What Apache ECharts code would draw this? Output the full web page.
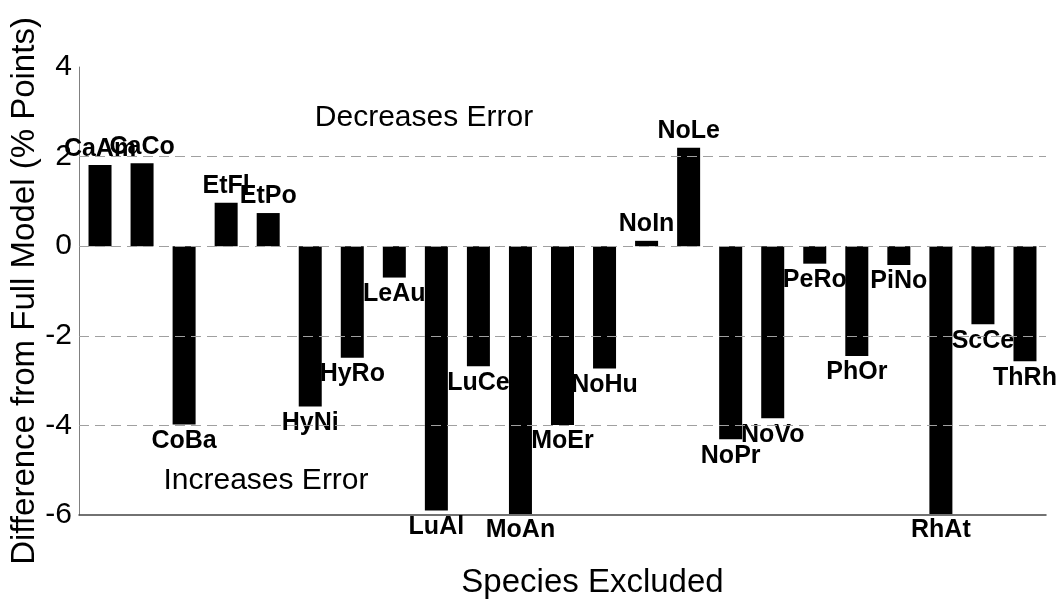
<!DOCTYPE html>
<html lang="en">
<head>
    <meta charset="UTF-8">
    <title>Species Excluded</title>
    <style>
        html, body { margin: 0; padding: 0; background: #fff; }
    </style>
</head>
<body>
<div id="main" style="width: 1060px;height: 601px"></div>
<script src="https://cdn.jsdelivr.net/npm/echarts@6/dist/echarts.min.js"></script>
<script>
    var species = ['CaAm', 'CaCo', 'CoBa', 'EtFl', 'EtPo', 'HyNi', 'HyRo', 'LeAu', 'LuAl', 'LuCe', 'MoAn', 'MoEr',
        'NoHu', 'NoIn', 'NoLe', 'NoPr', 'NoVo', 'PeRo', 'PhOr', 'PiNo', 'RhAt', 'ScCe', 'ThRh'];
    var difference = [1.81, 1.85, -3.98, 0.97, 0.74, -3.58, -2.49, -0.70, -5.90, -2.68, -5.98, -3.99,
        -2.73, 0.12, 2.20, -4.31, -3.84, -0.39, -2.45, -0.42, -5.98, -1.74, -2.57];
    var gridLevels = [2, 0, -2, -4];

    var fontFamily = '"Liberation Sans", Arial, sans-serif';
    var myChart = echarts.init(document.getElementById('main'));

    // label goes above positive bars and below negative ones
    var barData = [];
    for (var i = 0; i < difference.length; i++) {
        barData.push({
            value: difference[i],
            label: {position: difference[i] >= 0 ? 'top' : 'bottom'}
        });
    }

    var gridData = [];
    for (var j = 0; j < gridLevels.length; j++) {
        gridData.push({yAxis: gridLevels[j]});
    }

    var option = {
        animation: false,
        backgroundColor: '#fff',
        grid: {
            left: 79,
            right: 14,
            top: 67,
            bottom: 86,
            outerBoundsMode: 'none'
        },
        xAxis: {
            type: 'category',
            data: species,
            name: 'Species Excluded',
            nameLocation: 'middle',
            nameGap: 51,
            nameMoveOverlap: false,
            nameTextStyle: {
                fontFamily: fontFamily,
                fontSize: 33,
                color: '#000',
                padding: [0, 0, 0, 60]
            },
            axisLine: {onZero: false, lineStyle: {color: '#444', width: 1.5}},
            axisTick: {show: false},
            axisLabel: {show: false}
        },
        yAxis: {
            type: 'value',
            min: -6,
            max: 4,
            interval: 2,
            name: 'Difference from Full Model (% Points)',
            nameLocation: 'middle',
            nameGap: 38,
            nameMoveOverlap: false,
            nameTextStyle: {
                fontFamily: fontFamily,
                fontSize: 33,
                color: '#000'
            },
            axisLine: {show: true, lineStyle: {color: '#808080', width: 1}},
            axisTick: {show: false},
            splitLine: {show: false},
            axisLabel: {
                fontFamily: fontFamily,
                fontSize: 30,
                color: '#000',
                margin: 7
            }
        },
        series: [
            {
                type: 'line',
                data: [],
                z: 1,
                silent: true,
                markLine: {
                    silent: true,
                    symbol: 'none',
                    label: {show: false},
                    lineStyle: {color: '#a0a0a0', type: [10, 6], width: 1},
                    data: gridData
                }
            },
            {
                type: 'bar',
                data: barData,
                z: 3,
                barWidth: 23,
                itemStyle: {color: '#000'},
                label: {
                    show: true,
                    formatter: function (p) { return species[p.dataIndex]; },
                    fontFamily: fontFamily,
                    fontWeight: 'bold',
                    fontSize: 25,
                    color: '#000',
                    distance: 4
                }
            }
        ],
        graphic: [
            {
                type: 'text',
                x: 424,
                y: 118,
                style: {
                    text: 'Decreases Error',
                    fontFamily: fontFamily,
                    fontSize: 30,
                    fill: '#000',
                    textAlign: 'center',
                    textVerticalAlign: 'middle'
                }
            },
            {
                type: 'text',
                x: 266,
                y: 481,
                style: {
                    text: 'Increases Error',
                    fontFamily: fontFamily,
                    fontSize: 30,
                    fill: '#000',
                    textAlign: 'center',
                    textVerticalAlign: 'middle'
                }
            }
        ]
    };

    myChart.setOption(option);
</script>
</body>
</html>
